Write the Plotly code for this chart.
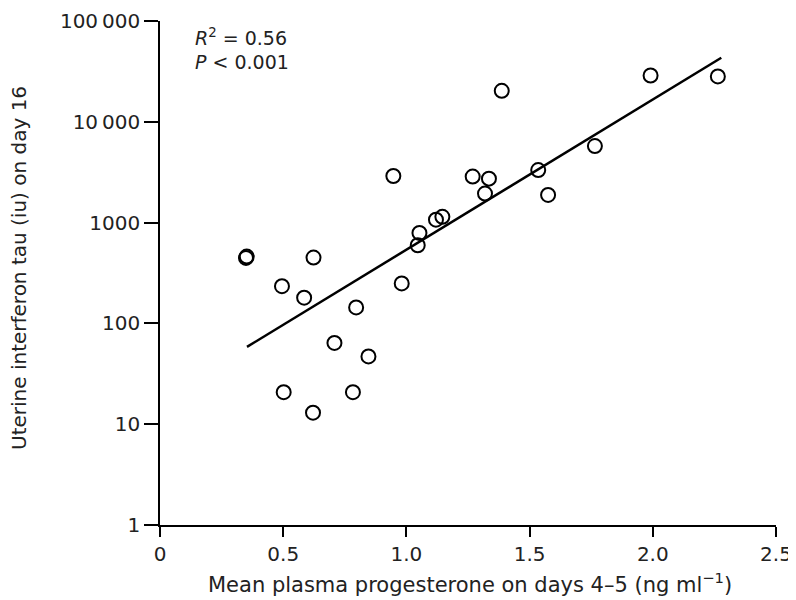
import plotly.graph_objects as go

# Data
progesterone = [0.349, 0.352, 0.623, 0.495, 0.585, 0.796, 0.708, 0.846, 0.502, 0.783, 0.621,
                0.947, 1.387, 1.991, 2.264, 1.765, 1.535, 1.575, 1.269, 1.335, 1.319,
                1.120, 1.146, 1.053, 1.046, 0.981]
interferon = [446, 460, 450, 234, 180, 144, 64, 47, 20.8, 20.8, 13,
              2900, 20300, 28800, 28200, 5740, 3320, 1880, 2860, 2730, 1940,
              1070, 1140, 790, 596, 249]

fit_x = [0.353, 2.278]
fit_y = [58.5, 43200]

y_tickvals = [1, 10, 100, 1000, 10000, 100000]
y_ticktext = ["1", "10", "100", "1000", "10\u2009000", "100\u2009000"]
x_tickvals = [0, 0.5, 1.0, 1.5, 2.0, 2.5]
x_ticktext = ["0", "0.5", "1.0", "1.5", "2.0", "2.5"]

FONT = "DejaVu Sans, Liberation Sans, Arial, sans-serif"
TXT = "#222222"

# page offset from the default body margin
OFF = 8
W, H = 796 - OFF, 600 - OFF
ML, MR, MT, MB = 160 - OFF, 20, 21 - OFF, 75
pw, ph = W - ML - MR, H - MT - MB


def px_to_paper(px, py):
    """page pixel -> paper coords"""
    fx, fy = px - OFF, py - OFF
    return (fx - ML) / pw, (H - MB - fy) / ph


fig = go.Figure()
fig.add_trace(go.Scatter(x=fit_x, y=fit_y, mode="lines",
                         line=dict(color="black", width=2.5), showlegend=False,
                         hoverinfo="skip"))
fig.add_trace(go.Scatter(x=progesterone, y=interferon, mode="markers",
                         marker=dict(symbol="circle-open", size=14, color="black",
                                     line=dict(width=2, color="black")),
                         showlegend=False))

fig.add_annotation(x=0.134, y=4.84, xref="x", yref="y", xanchor="left", yanchor="middle",
                   text="<i>R</i><sup>2</sup> = 0.56", showarrow=False,
                   font=dict(family=FONT, size=19, color=TXT))
fig.add_annotation(x=0.134, y=4.59, xref="x", yref="y", xanchor="left", yanchor="middle",
                   text="<i>P</i> &lt; 0.001", showarrow=False,
                   font=dict(family=FONT, size=19, color=TXT))

# axis titles
tx, ty = px_to_paper(470, 583)
fig.add_annotation(x=tx, y=ty, xref="paper", yref="paper", showarrow=False,
                   xanchor="center", yanchor="middle",
                   text="Mean plasma progesterone on days 4\u20135 (ng ml<sup>\u22121</sup>)",
                   font=dict(family=FONT, size=21, color=TXT))
tx, ty = px_to_paper(19, 268)
fig.add_annotation(x=tx, y=ty, xref="paper", yref="paper", showarrow=False,
                   xanchor="center", yanchor="middle",
                   text="Uterine interferon tau (iu) on day 16", textangle=-90,
                   font=dict(family=FONT, size=20, color=TXT))

fig.update_layout(
    width=W, height=H,
    margin=dict(l=ML, r=MR, t=MT, b=MB, autoexpand=False),
    plot_bgcolor="white", paper_bgcolor="white",
    font=dict(family=FONT, size=20, color=TXT),
    xaxis=dict(range=[0, 2.5], tickvals=x_tickvals, ticktext=x_ticktext,
               showline=True, linecolor="black", linewidth=1.5,
               ticks="outside", ticklen=10, tickwidth=1.5, tickcolor="black",
               showgrid=False, zeroline=False, automargin=False,
               tickfont=dict(family=FONT, size=20, color=TXT)),
    yaxis=dict(type="log", range=[0, 5], tickvals=y_tickvals, ticktext=y_ticktext,
               showline=True, linecolor="black", linewidth=1.5,
               ticks="outside", ticklen=14, tickwidth=1.5, tickcolor="black",
               showgrid=False, zeroline=False, automargin=False,
               tickfont=dict(family=FONT, size=20, color=TXT)),
)

fig.write_html("out.html")
